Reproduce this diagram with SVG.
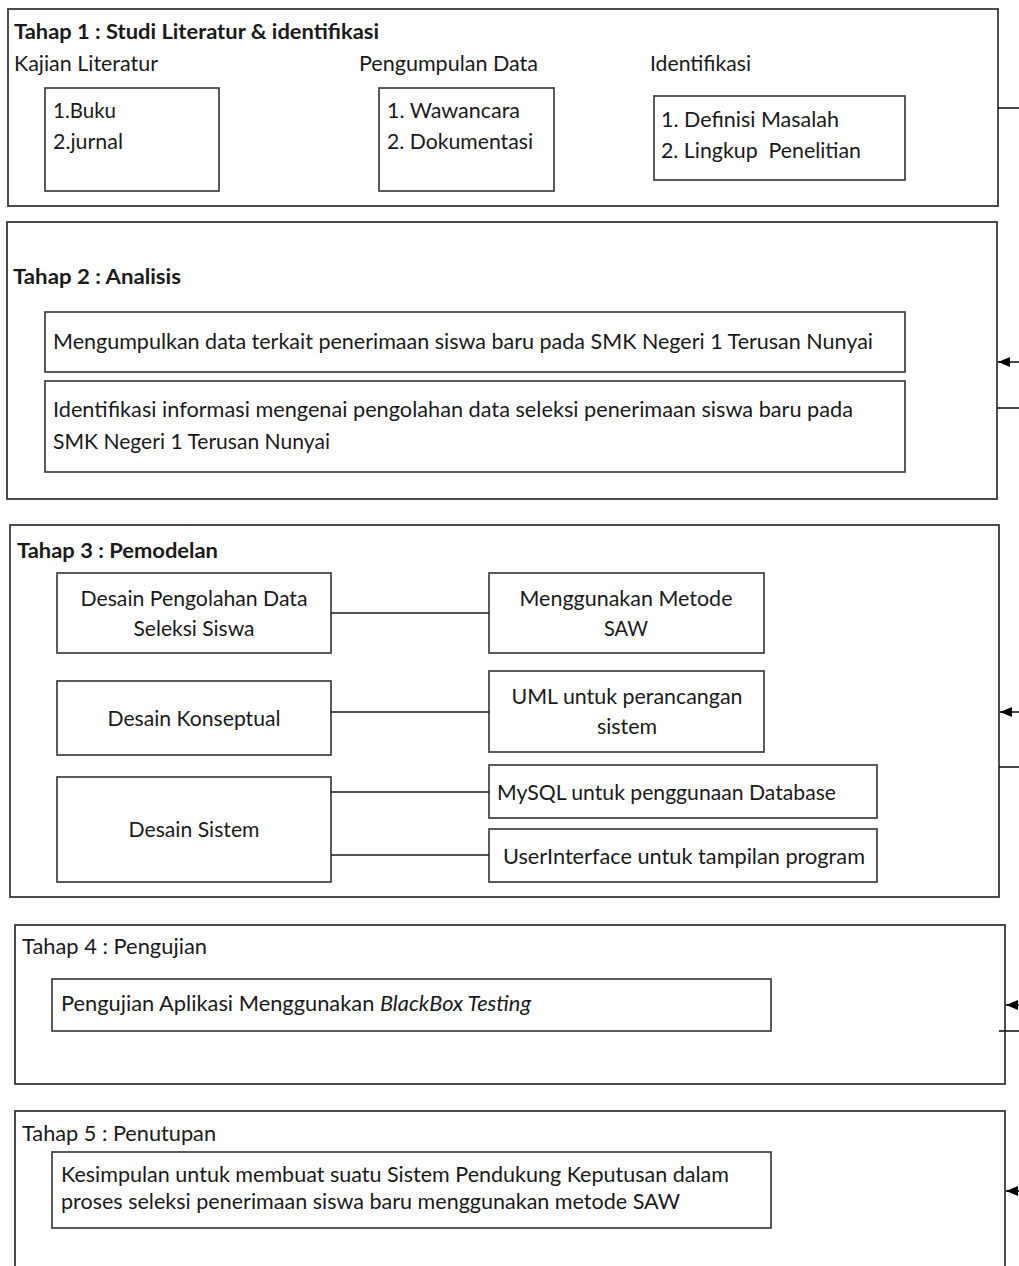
<svg xmlns="http://www.w3.org/2000/svg" width="1019" height="1266" viewBox="0 0 1019 1266">
<style>
.bg{fill:#ffffff}
.stage{fill:#ffffff;stroke:#3a3a3a;stroke-width:1.8}
.box{fill:#ffffff;stroke:#333333;stroke-width:1.6}
.t{font-family:Lato,'Open Sans','Liberation Sans',sans-serif;font-size:21px;fill:#1a1a1a}
.b{font-weight:bold}
.c{text-anchor:middle}
.i{font-style:italic}
.conn{stroke:#1a1a1a;stroke-width:1.6;fill:none}
</style>
<defs>
<marker id="ah" markerUnits="userSpaceOnUse" markerWidth="13" markerHeight="10" refX="12" refY="5" orient="auto">
<path d="M0,0 L12,5 L0,10 z" fill="#000000"/>
</marker>
</defs>
<rect class="bg" x="0" y="0" width="1019" height="1266"/>

<g id="tahap1">
<rect class="stage" x="8" y="9" width="990" height="197"/>
<text class="t b" x="14" y="39" textLength="365" lengthAdjust="spacingAndGlyphs">Tahap 1 : Studi Literatur &amp; identifikasi</text>
<text class="t" x="14" y="71" textLength="144" lengthAdjust="spacingAndGlyphs">Kajian Literatur</text>
<text class="t" x="359" y="71" textLength="179" lengthAdjust="spacingAndGlyphs">Pengumpulan Data</text>
<text class="t" x="650" y="71" textLength="101" lengthAdjust="spacingAndGlyphs">Identifikasi</text>
</g>
<g id="kajian">
<rect class="box" x="45" y="88" width="174" height="103"/>
<text class="t" x="53" y="118" textLength="63" lengthAdjust="spacingAndGlyphs">1.Buku</text>
<text class="t" x="53" y="149" textLength="70" lengthAdjust="spacingAndGlyphs">2.jurnal</text>
</g>
<g id="pengumpulan">
<rect class="box" x="379" y="88" width="175" height="103"/>
<text class="t" x="387" y="118" textLength="133" lengthAdjust="spacingAndGlyphs">1. Wawancara</text>
<text class="t" x="387" y="149" textLength="146" lengthAdjust="spacingAndGlyphs">2. Dokumentasi</text>
</g>
<g id="identifikasi">
<rect class="box" x="654" y="96" width="251" height="84"/>
<text class="t" x="661" y="127" textLength="178" lengthAdjust="spacingAndGlyphs">1. Definisi Masalah</text>
<text class="t" x="661" y="158" textLength="200" lengthAdjust="spacingAndGlyphs" xml:space="preserve">2. Lingkup  Penelitian</text>
</g>

<g id="tahap2">
<rect class="stage" x="7" y="222" width="990" height="277"/>
<text class="t b" x="13" y="284" textLength="168" lengthAdjust="spacingAndGlyphs">Tahap 2 : Analisis</text>
</g>
<g id="analisis1">
<rect class="box" x="45" y="312" width="860" height="60"/>
<text class="t" x="53" y="349" textLength="820" lengthAdjust="spacingAndGlyphs">Mengumpulkan data terkait penerimaan siswa baru pada SMK Negeri 1 Terusan Nunyai</text>
</g>
<g id="analisis2">
<rect class="box" x="45" y="381" width="860" height="91"/>
<text class="t" x="53" y="417" textLength="800" lengthAdjust="spacingAndGlyphs">Identifikasi informasi mengenai pengolahan data seleksi penerimaan siswa baru pada</text>
<text class="t" x="53" y="449" textLength="277" lengthAdjust="spacingAndGlyphs">SMK Negeri 1 Terusan Nunyai</text>
</g>

<g id="tahap3">
<rect class="stage" x="10" y="525" width="989" height="372"/>
<text class="t b" x="17" y="558" textLength="201" lengthAdjust="spacingAndGlyphs">Tahap 3 : Pemodelan</text>
</g>
<g id="desainPengolahan">
<rect class="box" x="57" y="573" width="274" height="80"/>
<text class="t c" x="194" y="606" textLength="227" lengthAdjust="spacingAndGlyphs">Desain Pengolahan Data</text>
<text class="t c" x="194" y="636" textLength="121" lengthAdjust="spacingAndGlyphs">Seleksi Siswa</text>
</g>
<g id="metodeSAW">
<rect class="box" x="489" y="573" width="275" height="80"/>
<text class="t c" x="626" y="606" textLength="213" lengthAdjust="spacingAndGlyphs">Menggunakan Metode</text>
<text class="t c" x="626" y="636" textLength="44" lengthAdjust="spacingAndGlyphs">SAW</text>
</g>
<g id="desainKonseptual">
<rect class="box" x="57" y="681" width="274" height="74"/>
<text class="t c" x="194" y="726" textLength="173" lengthAdjust="spacingAndGlyphs">Desain Konseptual</text>
</g>
<g id="uml">
<rect class="box" x="489" y="671" width="275" height="81"/>
<text class="t c" x="627" y="704" textLength="231" lengthAdjust="spacingAndGlyphs">UML untuk perancangan</text>
<text class="t c" x="627" y="734" textLength="60" lengthAdjust="spacingAndGlyphs">sistem</text>
</g>
<g id="desainSistem">
<rect class="box" x="57" y="777" width="274" height="105"/>
<text class="t c" x="194" y="837" textLength="131" lengthAdjust="spacingAndGlyphs">Desain Sistem</text>
</g>
<g id="mysql">
<rect class="box" x="489" y="765" width="388" height="53"/>
<text class="t" x="497" y="800" textLength="339" lengthAdjust="spacingAndGlyphs">MySQL untuk penggunaan Database</text>
</g>
<g id="userinterface">
<rect class="box" x="489" y="829" width="388" height="53"/>
<text class="t" x="503" y="864" textLength="362" lengthAdjust="spacingAndGlyphs">UserInterface untuk tampilan program</text>
</g>

<g id="tahap4">
<rect class="stage" x="15" y="925" width="990" height="159"/>
<text class="t" x="22" y="954" textLength="185" lengthAdjust="spacingAndGlyphs">Tahap 4 : Pengujian</text>
</g>
<g id="pengujian">
<rect class="box" x="52" y="979" width="719" height="52"/>
<text class="t" x="61" y="1011" textLength="470" lengthAdjust="spacingAndGlyphs">Pengujian Aplikasi Menggunakan <tspan class="i">BlackBox Testing</tspan></text>
</g>

<g id="tahap5">
<rect class="stage" x="15" y="1111" width="990" height="175"/>
<text class="t" x="22" y="1141" textLength="194" lengthAdjust="spacingAndGlyphs">Tahap 5 : Penutupan</text>
</g>
<g id="kesimpulan">
<rect class="box" x="52" y="1152" width="719" height="76"/>
<text class="t" x="61" y="1182" textLength="668" lengthAdjust="spacingAndGlyphs">Kesimpulan untuk membuat suatu Sistem Pendukung Keputusan dalam</text>
<text class="t" x="61" y="1209" textLength="619" lengthAdjust="spacingAndGlyphs">proses seleksi penerimaan siswa baru menggunakan metode SAW</text>
</g>

<g id="connectors">
<line class="conn" x1="331" y1="613" x2="489" y2="613"/>
<line class="conn" x1="331" y1="712" x2="489" y2="712"/>
<line class="conn" x1="331" y1="792" x2="489" y2="792"/>
<line class="conn" x1="331" y1="855" x2="489" y2="855"/>
<line class="conn" x1="998" y1="108" x2="1025" y2="108"/>
<line class="conn" x1="1025" y1="362" x2="998" y2="362" marker-end="url(#ah)"/>
<line class="conn" x1="997" y1="408" x2="1025" y2="408"/>
<line class="conn" x1="1025" y1="712" x2="1000" y2="712" marker-end="url(#ah)"/>
<line class="conn" x1="999" y1="767" x2="1025" y2="767"/>
<line class="conn" x1="1025" y1="1005" x2="1006" y2="1005" marker-end="url(#ah)"/>
<line class="conn" x1="999" y1="1031" x2="1025" y2="1031"/>
<line class="conn" x1="1025" y1="1191" x2="1006" y2="1191" marker-end="url(#ah)"/>
</g>
</svg>
